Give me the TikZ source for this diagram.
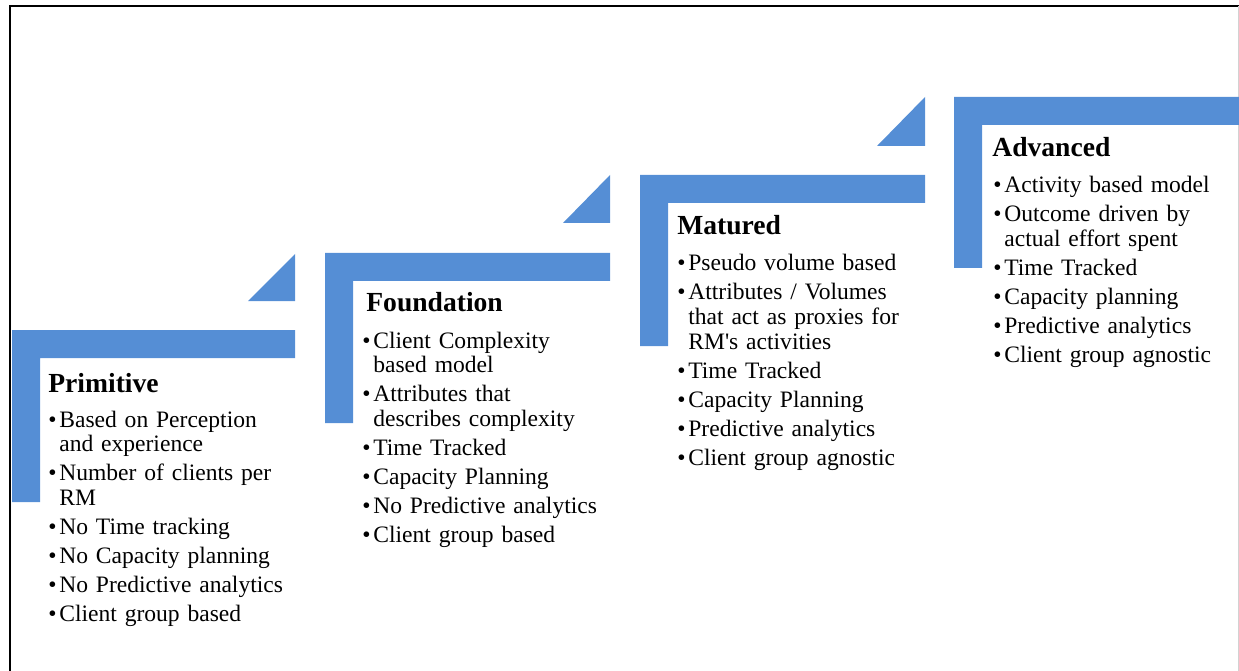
\documentclass[tikz,border=0pt]{standalone}
\usepackage{fontspec}
\setmainfont{Liberation Serif}
\definecolor{stepblue}{RGB}{85,142,213}
\newcommand{\bul}[1]{\setlength{\parskip}{2.3pt}\hangindent=0.22cm\hangafter=1\noindent\makebox[0.22cm][l]{\textbullet}#1\par}
\begin{document}
\begin{tikzpicture}[x=0.2mm, y=-0.2mm,
        stepfill/.style={fill=stepblue},
        stagetitle/.style={anchor=base west, inner sep=0pt, font=\fontsize{15.7pt}{18pt}\selectfont\bfseries},
        steplist/.style={anchor=base west, inner sep=0pt, text width=5cm, align=left, font=\fontsize{13.4pt}{14.2pt}\selectfont}
    ]
        \useasboundingbox (0,0) rectangle (1239,671);

        % Frame
        \draw[line width=0.4mm] (10,671) -- (10,6) -- (1239,6);
        \draw[gray!35, line width=0.2mm] (1238,6) -- (1238,671);

        % Primitive
        \fill[stepfill] (12,330) -- ++(283,0) -- ++(0,28) -- ++(-255,0) -- ++(0,144) -- ++(-28,0) -- cycle;
        \fill[stepfill] (248,301) -- (295,301) -- (295,254) -- cycle;
        \node[stagetitle] (prim-title) at (48,392) {Primitive};
        \node[steplist] (prim-list) at (48,427) {%
            \bul{Based on Perception\newline and experience}
            \bul{Number of clients per\newline RM}
            \bul{No Time tracking}
            \bul{No Capacity planning}
            \bul{No Predictive analytics}
            \bul{Client group based}};

        % Foundation
        \fill[stepfill] (325,253) -- ++(285,0) -- ++(0,28) -- ++(-257,0) -- ++(0,142) -- ++(-28,0) -- cycle;
        \fill[stepfill] (563,223) -- (610,223) -- (610,175) -- cycle;
        \node[stagetitle] (found-title) at (366,312) {Foundation};
        \node[steplist] (found-list) at (362,348) {%
            \bul{Client Complexity\newline based model}
            \bul{Attributes that\newline describes complexity}
            \bul{Time Tracked}
            \bul{Capacity Planning}
            \bul{No Predictive analytics}
            \bul{Client group based}};

        % Matured
        \fill[stepfill] (640,175) -- ++(285,0) -- ++(0,28) -- ++(-257,0) -- ++(0,143) -- ++(-28,0) -- cycle;
        \fill[stepfill] (877,146) -- (925,146) -- (925,97) -- cycle;
        \node[stagetitle] (mat-title) at (677,235) {Matured};
        \node[steplist] (mat-list) at (677,271) {%
            \bul{Pseudo volume based}
            \bul{Attributes / Volumes\newline that act as proxies for\newline RM\textquotesingle s activities}
            \bul{Time Tracked}
            \bul{Capacity Planning}
            \bul{Predictive analytics}
            \bul{Client group agnostic}};

        % Advanced
        \fill[stepfill] (954,97) -- ++(285,0) -- ++(0,28) -- ++(-257,0) -- ++(0,143) -- ++(-28,0) -- cycle;
        \node[stagetitle] (adv-title) at (992,157) {Advanced};
        \node[steplist] (adv-list) at (993,193) {%
            \bul{Activity based model}
            \bul{Outcome driven by\newline actual effort spent}
            \bul{Time Tracked}
            \bul{Capacity planning}
            \bul{Predictive analytics}
            \bul{Client group agnostic}};
    \end{tikzpicture}
\end{document}
